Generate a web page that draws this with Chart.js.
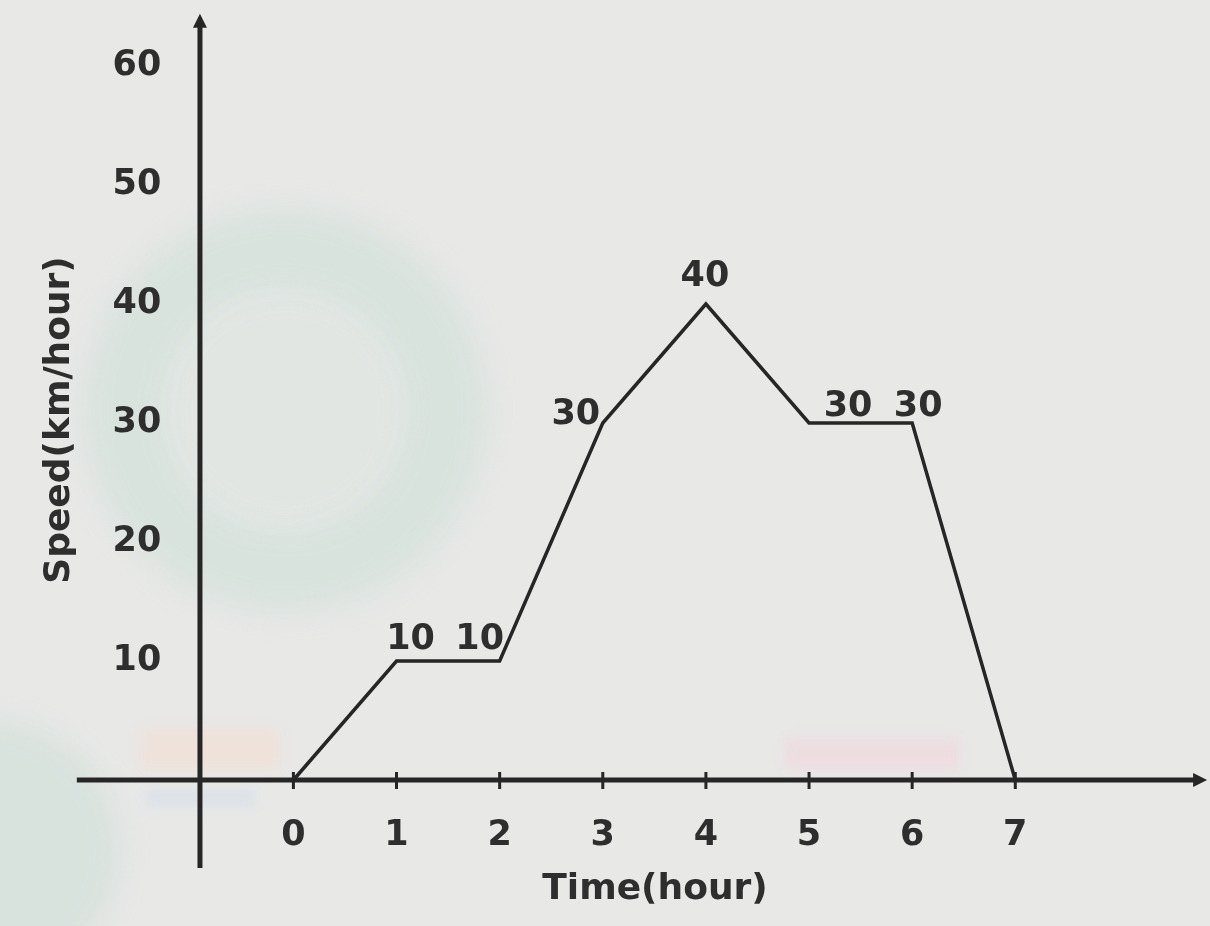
<!DOCTYPE html>
<html>
<head>
<meta charset="utf-8">
<script src="https://cdn.jsdelivr.net/npm/chart.js@4.4.1/dist/chart.umd.min.js"></script>
<style>
  html, body { margin: 0; padding: 0; background: #e8e8e7; }
  #wrap { width: 1210px; height: 926px; position: relative; }
  canvas { filter: blur(0.7px); }
</style>
</head>
<body>
<div id="wrap"><canvas id="c" width="1210" height="926"></canvas></div>
<script>
// ---- data ----
const times = [0, 1, 2, 3, 4, 5, 6, 7];
const speeds = [0, 10, 10, 30, 40, 30, 30, 0];
const pointLabels = ['', '10', '10', '30', '40', '30', '30', ''];
const xTickLabels = ['0', '1', '2', '3', '4', '5', '6', '7'];
const yTickValues = [10, 20, 30, 40, 50, 60];
const xTitle = 'Time(hour)';
const yTitle = 'Speed(km/hour)';

// ---- styles ----
const INK = '#262626';
const TXT = '#2e2e2e';
const FONT = '"DejaVu Sans", sans-serif';
const labelOffsets = [null, [14, -21], [-20, -21], [-27, -8], [-1, -27], [39, -16], [6, -16], null];

const drawPlugin = {
  id: 'drawPlugin',
  beforeDraw(chart) {
    const ctx = chart.ctx;
    ctx.save();
    // faint watermark ring / paper blotches
    ctx.filter = 'blur(14px)';
    ctx.strokeStyle = 'rgba(170,212,196,0.24)';
    ctx.lineWidth = 85;
    ctx.beginPath(); ctx.arc(285, 410, 160, 0, Math.PI * 2); ctx.stroke();
    ctx.fillStyle = 'rgba(170,212,196,0.08)';
    ctx.beginPath(); ctx.arc(285, 410, 118, 0, Math.PI * 2); ctx.fill();
    ctx.fillStyle = 'rgba(170,212,196,0.25)';
    ctx.beginPath(); ctx.arc(-10, 850, 130, 0, Math.PI * 2); ctx.fill();
    ctx.filter = 'blur(6px)';
    ctx.fillStyle = 'rgba(245,205,218,0.4)';
    ctx.fillRect(785, 738, 175, 32);
    ctx.fillStyle = 'rgba(246,220,205,0.45)';
    ctx.fillRect(140, 728, 140, 42);
    ctx.fillStyle = 'rgba(205,218,236,0.45)';
    ctx.fillRect(145, 790, 110, 16);
    ctx.restore();
  },
  beforeDatasetsDraw(chart) {
    const ctx = chart.ctx;
    const xs = chart.scales.x, ys = chart.scales.y;
    const y0 = ys.getPixelForValue(0);
    const yAxisX = xs.getPixelForValue(-0.906);
    ctx.save();
    ctx.strokeStyle = INK;
    ctx.fillStyle = INK;
    ctx.lineCap = 'butt';
    // x axis
    ctx.lineWidth = 5;
    ctx.beginPath();
    ctx.moveTo(xs.getPixelForValue(-2.1), y0);
    ctx.lineTo(xs.getPixelForValue(8.8), y0);
    ctx.stroke();
    ctx.beginPath();
    const xe = xs.getPixelForValue(8.86);
    ctx.moveTo(xe, y0);
    ctx.lineTo(xe - 14, y0 - 7);
    ctx.lineTo(xe - 14, y0 + 7);
    ctx.closePath(); ctx.fill();
    // y axis
    ctx.lineWidth = 5;
    ctx.beginPath();
    ctx.moveTo(yAxisX, ys.getPixelForValue(-7.4));
    ctx.lineTo(yAxisX, ys.getPixelForValue(63.5));
    ctx.stroke();
    const yt = ys.getPixelForValue(64.4);
    ctx.beginPath();
    ctx.moveTo(yAxisX, yt);
    ctx.lineTo(yAxisX - 7, yt + 14);
    ctx.lineTo(yAxisX + 7, yt + 14);
    ctx.closePath(); ctx.fill();
    // x tick marks
    ctx.lineWidth = 3;
    times.forEach(t => {
      const px = xs.getPixelForValue(t);
      ctx.beginPath();
      ctx.moveTo(px, y0 - 8);
      ctx.lineTo(px, y0 + 9);
      ctx.stroke();
    });
    ctx.restore();
  },
  afterDatasetsDraw(chart) {
    const ctx = chart.ctx;
    const xs = chart.scales.x, ys = chart.scales.y;
    const y0 = ys.getPixelForValue(0);
    const yAxisX = xs.getPixelForValue(-0.906);
    ctx.save();
    ctx.fillStyle = TXT;
    ctx.textAlign = 'center';
    ctx.textBaseline = 'middle';
    // y tick labels
    ctx.font = 'bold 35px ' + FONT;
    yTickValues.forEach(v => {
      ctx.fillText(String(v), yAxisX - 63, ys.getPixelForValue(v));
    });
    // x tick labels
    xTickLabels.forEach((lab, i) => {
      ctx.fillText(lab, xs.getPixelForValue(times[i]), y0 + 56);
    });
    // point labels
    const meta = chart.getDatasetMeta(0);
    meta.data.forEach((pt, i) => {
      if (!pointLabels[i] || !labelOffsets[i]) return;
      ctx.fillText(pointLabels[i], pt.x + labelOffsets[i][0], pt.y + labelOffsets[i][1]);
    });
    // titles
    ctx.font = 'bold 36px ' + FONT;
    ctx.fillText(xTitle, 655, y0 + 110);
    ctx.save();
    ctx.translate(60, 420);
    ctx.rotate(-Math.PI / 2);
    ctx.fillText(yTitle, 0, 0);
    ctx.restore();
    ctx.restore();
  }
};

new Chart(document.getElementById('c'), {
  type: 'line',
  data: {
    datasets: [{
      data: times.map((t, i) => ({ x: t, y: speeds[i] })),
      borderColor: INK,
      borderWidth: 3.5,
      pointRadius: 0,
      tension: 0,
      fill: false
    }]
  },
  options: {
    responsive: false,
    animation: false,
    events: [],
    layout: { padding: 0 },
    plugins: { legend: { display: false }, tooltip: { enabled: false } },
    scales: {
      x: { type: 'linear', min: -2.845, max: 8.888, display: false },
      y: { type: 'linear', min: -12.269, max: 65.546, display: false }
    }
  },
  plugins: [drawPlugin]
});
</script>
</body>
</html>
